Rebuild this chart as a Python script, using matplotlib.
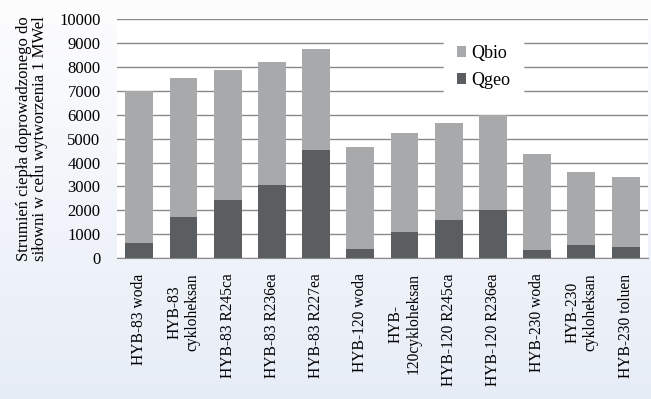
import numpy as np
import matplotlib.pyplot as plt
from matplotlib.colors import LinearSegmentedColormap

plt.rcParams['font.family'] = ['Liberation Serif', 'DejaVu Serif']

# dane
kategorie = ['HYB-83 woda', 'HYB-83\ncykloheksan', 'HYB-83 R245ca', 'HYB-83 R236ea',
             'HYB-83 R227ea', 'HYB-120 woda', 'HYB-\n120cykloheksan', 'HYB-120 R245ca',
             'HYB-120 R236ea', 'HYB-230 woda', 'HYB-230\ncykloheksan', 'HYB-230 toluen']
suma = [7000, 7520, 7880, 8200, 8770, 4670, 5250, 5650, 6000, 4350, 3600, 3380]
q_geo = [620, 1730, 2450, 3050, 4540, 390, 1080, 1580, 2020, 330, 540, 450]
q_bio = [s - g for s, g in zip(suma, q_geo)]

fig = plt.figure(figsize=(6.51, 3.99), dpi=100)

# tlo figury - lekki gradient
bg = fig.add_axes([0, 0, 1, 1], zorder=-10)
grad = np.linspace(0, 1, 256).reshape(-1, 1)
cm = LinearSegmentedColormap.from_list('bg', ['#fdfdfe', '#e7edf7'])
bg.imshow(grad, aspect='auto', cmap=cm, extent=[0, 1, 0, 1])
bg.axis('off')

ax = fig.add_axes([0.18, 0.353, 0.815, 0.599])
ax.set_facecolor('white')
x = np.arange(len(kategorie))
ax.bar(x, q_geo, width=0.63, color='#5b5e60', label='Qgeo', zorder=3)
ax.bar(x, q_bio, width=0.63, bottom=q_geo, color='#a7a9ab', label='Qbio', zorder=3)

ax.set_ylim(0, 10000)
ax.set_xlim(-0.5, len(kategorie) - 0.5)
ax.set_yticks(np.arange(0, 10001, 1000))
ax.yaxis.grid(True, color='#8a8a8a', linewidth=1.0, zorder=0)
ax.set_axisbelow(True)
for s in ['left', 'right', 'top']:
    ax.spines[s].set_visible(False)
ax.spines['bottom'].set_color('#8a8a8a')
ax.tick_params(axis='y', length=0, labelsize=12, pad=12)
ax.set_xticks(x)
ax.set_xticklabels(kategorie, rotation=90, fontsize=11.2, multialignment='center', va='top')
ax.tick_params(axis='x', length=0, pad=11)
ax.set_ylabel('Strumień ciepła doprowadzonego do\nsiłowni w celu wytworzenia 1 MWel',
              fontsize=12, labelpad=8, linespacing=1.0)

h, l = ax.get_legend_handles_labels()
leg = ax.legend(h[::-1], l[::-1], loc='center', bbox_to_anchor=(0.69, 0.80), fontsize=13,
                frameon=True, facecolor='white', edgecolor='white', framealpha=1,
                handlelength=0.55, handleheight=0.55, handletextpad=0.25, borderpad=0.4,
                labelspacing=0.55)
leg.get_frame().set_boxstyle('square')

plt.savefig('out.png', dpi=100)
